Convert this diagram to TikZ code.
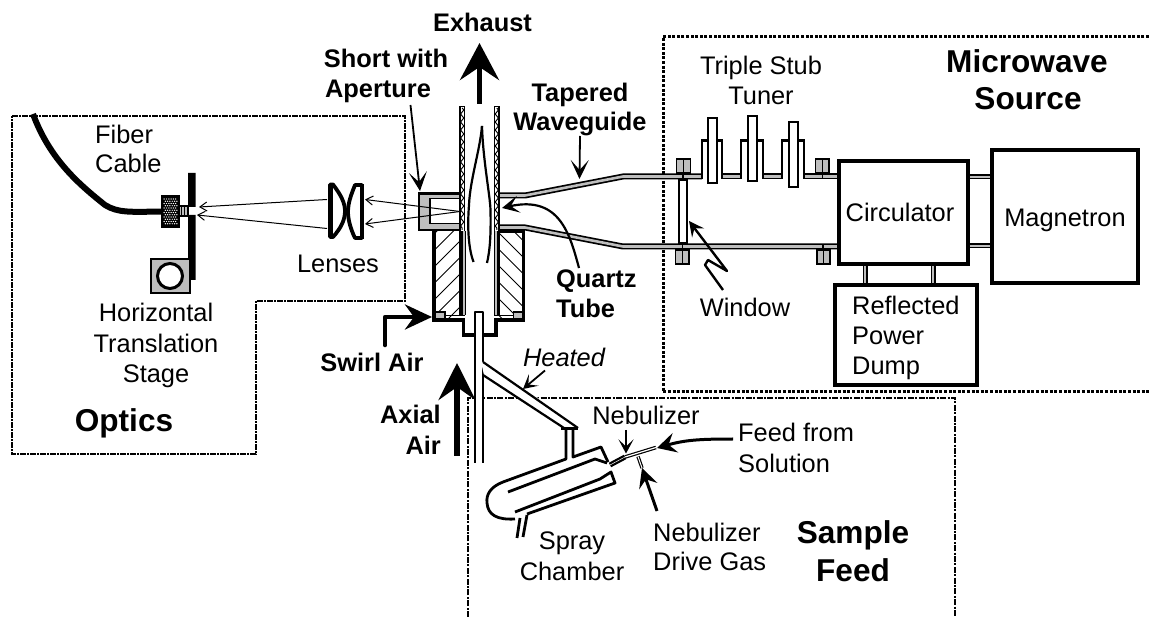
\documentclass[tikz,border=0pt]{standalone}
\usepackage{fontspec}
\setmainfont{Liberation Sans}
\usetikzlibrary{arrows.meta,decorations.pathmorphing,calc}
\definecolor{wg}{HTML}{BEBEBE}
\tikzset{
  reg/.style={font=\fontsize{25.4}{29}\selectfont,inner sep=0pt,anchor=base},
  regl/.style={reg,anchor=base west},
  ital/.style={font=\fontsize{25.4}{29}\itshape\selectfont,inner sep=0pt,anchor=base},
  bm/.style={font=\fontsize{25.4}{29}\bfseries\selectfont,inner sep=0pt,anchor=base},
  bl/.style={font=\fontsize{31.6}{36}\bfseries\selectfont,inner sep=0pt,anchor=base},
  blockbox/.style={draw,line width=3.6pt,fill=white,inner sep=0pt,font=\fontsize{25.4}{29}\selectfont},
  wall/.style={draw=black,line width=6pt,postaction={draw=wg,line width=2.6pt}},
  thinwall/.style={draw=black,line width=5pt,postaction={draw=wg,line width=2.4pt}},
  pipe/.style={draw=black,line width=2.8pt,line join=round},
  qwall/.style={draw=black,line width=1.3pt,fill=white},
  bolt/.style={draw=black,line width=1.6pt,fill=wg},
  plunger/.style={draw=black,line width=2pt,fill=white},
  hatchl/.style={line width=0.9pt},
  microbox/.style={line width=3pt,dash pattern=on 3pt off 1.6pt},
  samplebox/.style={line width=2.2pt,dash pattern=on 6pt off 1.4pt on 2pt off 1.4pt},
  opticsbox/.style={line width=1.8pt,dash pattern=on 6pt off 1.2pt on 1.6pt off 1.2pt},
  ray/.style={line width=1pt,-{Straight Barb[length=7pt,width=9pt,line width=1pt]}},
  thinarrow/.style={line width=1.8pt,-{Stealth[length=19pt,width=18pt,inset=10pt]}},
  midarrow/.style={line width=2.6pt,-{Stealth[length=16pt,width=17pt,inset=7pt]}},
  bigarrow/.style={line width=4.6pt,-{Stealth[length=27pt,width=25pt,inset=9pt]}},
}
\begin{document}
\begin{tikzpicture}[x=1pt,y=-1pt]
\useasboundingbox (0,0) rectangle (1149,617);
% region outlines
\coordinate (ma) at (1149,36.5); \coordinate (mb) at (663,36.5); \coordinate (mc) at (663,392); \coordinate (md) at (1149,392);
\draw[microbox] (ma) -- (mb) -- (mc) -- (md);
\coordinate (sa) at (468,617); \coordinate (sb) at (468,398); \coordinate (sc) at (955,398); \coordinate (sd) at (955,617);
\draw[samplebox] (sa) -- (sb) -- (sc) -- (sd);
\coordinate (oa) at (12,116); \coordinate (ob) at (405,116); \coordinate (oc) at (405,301); \coordinate (od) at (256,301); \coordinate (oe) at (256,454); \coordinate (of) at (12,454);
\draw[opticsbox] (oa) -- (ob) -- (oc) -- (od) -- (oe) -- (of) -- cycle;

% fibre, connector, stage
\node[draw,line width=2.4pt,fill=black,minimum width=16pt,minimum height=30pt,inner sep=0pt] (conn) at (170.5,211.5) {};
\foreach \i in {0,...,5} \foreach \j in {0,...,11}
  \fill[white] ({164.2+\i*2.3+mod(\j,2)*1.15},{199+\j*2.25}) circle (.72pt);
\coordinate (fib) at (33,114);
\draw[line width=6pt] (fib) .. controls (50,160) and (80,185) .. (105,205) .. controls (118,213) and (130,212) .. (conn.west);
\node[draw,line width=2pt,fill=wg,minimum width=9pt,minimum height=10pt,inner sep=0pt] (ferr) at (183.5,211.5) {};
\draw[line width=.8pt] (181,207) -- (181,216) (184,207) -- (184,216);
\fill (188,173) rectangle (195.5,207) (188,215) rectangle (195.5,280);
\node[draw,line width=2.4pt,fill=wg,minimum width=39pt,minimum height=34pt,inner sep=0pt] (stage) at (170.5,276) {};
\node[draw,line width=3pt,fill=white,circle,minimum size=25pt,inner sep=0pt] (stagec) at (170,276) {};

% lenses
\draw[line width=3.8pt,line join=round,fill=white] (330,184.5) -- (333,184.5) .. controls (341,195) and (345,203) .. (345,211) .. controls (345,220) and (341,228) .. (333,237) -- (330,237) -- cycle;
\fill (328.5,184) rectangle (333,238);
\draw[line width=3.8pt,line join=round,fill=white] (362,185) -- (355,185) .. controls (351,195) and (348,203) .. (348,212) .. controls (348,220) and (351,230) .. (355,238) -- (362,238) -- cycle;
\fill (360,184) rectangle (364,239);
\coordinate (lensla) at (327,199.5); \coordinate (lenslb) at (327,228.5);
\coordinate (lensra) at (365,199.5); \coordinate (lensrb) at (365,224);
\coordinate (fa) at (199,207); \coordinate (fb) at (197,215);
\coordinate (focus) at (460,211.5);
\draw[ray] (lensla) -- (fa);
\draw[ray] (lenslb) -- (fb);

% coil block
\begin{scope}
\clip (434,231) rectangle (460,319);
\foreach \k in {0,...,8} \draw[hatchl] (430,{238+\k*16.5}) -- ++(35,-35);
\end{scope}
\begin{scope}
\clip (498,231) rectangle (523,319);
\foreach \k in {0,...,8} \draw[hatchl] (495,{196+\k*16.5}) -- ++(35,35);
\end{scope}
\draw[line width=3.6pt,line join=miter] (434,230) -- (434,320) -- (462,320);
\draw[line width=3.6pt,line join=miter] (499,231) -- (523.5,231) -- (523.5,320) -- (497,320);
\draw[line width=1pt] (445,316) -- (460,316) (498,316) -- (513,316);
\draw[bolt] (435.5,312) rectangle (445,319);
\draw[bolt] (513.5,312) rectangle (522.5,319);

% short with aperture
\draw[draw=black,line width=2.6pt,fill=wg] (460,193.5) -- (419,193.5) -- (419,230) -- (460,230);
\draw[draw=black,line width=1.6pt,fill=white] (460,198.5) -- (430,198.5) -- (430,223.5) -- (460,223.5);

% waveguide
\draw[wall] (498,195.5) -- (525,195.5) -- (623,176.5) -- (702,176.5);
\draw[wall] (498,227.5) -- (525,227.5) -- (623,246.5) -- (838,246.5);
\draw[wall] (722,176.5) -- (741,176.5);
\draw[wall] (763,176.5) -- (782,176.5);
\draw[wall] (804,176.5) -- (838,176.5);
\draw[line width=2.4pt,line join=miter] (702,179) -- (702,140.5) -- (722,140.5) -- (722,179);
\draw[line width=2.4pt,line join=miter] (741,179) -- (741,140.5) -- (763,140.5) -- (763,179);
\draw[line width=2.4pt,line join=miter] (782,179) -- (782,140.5) -- (804,140.5) -- (804,179);
\draw[plunger] (708,118) rectangle (717,183);
\draw[plunger] (748,116) rectangle (757,181);
\draw[plunger] (789,122) rectangle (798,187);
% window and flanges
\draw[line width=2pt,fill=white] (679,180) rectangle (687,243);
\draw[bolt] (676.5,159) rectangle (683.5,173); \draw[bolt] (683.5,159) rectangle (690.5,173);
\draw[bolt] (675.5,250) rectangle (682.5,264); \draw[bolt] (682.5,250) rectangle (689,264);
\draw[bolt] (815.5,159) rectangle (822.5,173); \draw[bolt] (822.5,159) rectangle (829,173);
\draw[bolt] (817,250) rectangle (823.5,264); \draw[bolt] (823.5,250) rectangle (830,264);
\draw[line width=1.2pt] (683,174) -- (683,179) (822.5,174) -- (822.5,179) (682.5,244) -- (682.5,249) (823,244) -- (823,249);

% torch tubes
\fill[white] (464,106) rectangle (495,320);
\draw[qwall] (460,106.5) rectangle (464.5,315);
\draw[qwall] (494.5,106.5) rectangle (499,315);
\draw[line width=1pt,decorate,decoration={zigzag,segment length=8pt,amplitude=1.6pt}] (462.2,108) -- (462.2,230);
\draw[line width=1pt,decorate,decoration={zigzag,segment length=8pt,amplitude=1.6pt}] (496.8,108) -- (496.8,230);
\fill (458.5,231) rectangle (463,315);
\fill[wg] (463,231) rectangle (465,315);
\draw[line width=1pt] (465.2,231) -- (465.2,315);
\fill (496.5,231) rectangle (500,315);
\fill[wg] (494.5,231) rectangle (496.5,315);
\draw[line width=1pt] (494,231) -- (494,315);
\draw[line width=3.4pt,line join=miter,fill=white] (463.5,318) -- (463.5,335) -- (496,335) -- (496,318);
% flame
\coordinate (flametip) at (482,126);
\draw[line width=2.2pt] (flametip) .. controls (480,150) and (470,180) .. (469,205) .. controls (467,230) and (469,250) .. (473.5,262);
\draw[line width=2.2pt] (flametip) .. controls (483,160) and (490,195) .. (490.5,210) .. controls (491,235) and (490,250) .. (487,263);
% axial tube
\draw[pipe,fill=white,line width=2.2pt] (475,463) -- (475,312) -- (483,312) -- (483,463);
% heated line and chamber
\fill[white] (481,362) -- (490,362) -- (578,428) -- (564,428) -- (484,375) -- cycle;
\draw[pipe,line width=2.2pt] (483,362) -- (578,428) (483,375) -- (564,428);
\draw[pipe] (561,428.5) -- (578,428.5);
\draw[pipe] (566,429) -- (566,459) -- (503,482) .. controls (490,487) and (486,495) .. (487,503) .. controls (488,515) and (497,520) .. (515,519);
\draw[pipe] (573,429) -- (573,457) -- (601,447) -- (608,462);
\draw[pipe] (508,492) -- (595,459) -- (607,463);
\draw[pipe] (515,512) -- (600,479) -- (611,472) -- (615,483) -- (527,514);
\draw[pipe] (520,518) -- (517,538);
\draw[pipe] (527,515) -- (523,537);
% nebulizer
\coordinate (nebA) at (610,465); \coordinate (nebB) at (625,457); \coordinate (nebC) at (656,447.5);
\coordinate (nebD) at (638,456.5); \coordinate (nebE) at (642,468);
\draw[line width=3.6pt,postaction={draw=white,line width=1.2pt}] (nebB) -- (nebC);
\draw[line width=3.4pt,postaction={draw=white,line width=1pt}] (nebD) -- (nebE);
\draw[line width=5pt,postaction={draw=white,line width=.5pt}] (nebA) -- (nebB);

% boxes
\node[blockbox,minimum width=129pt,minimum height=103pt,text height=18pt,text depth=0pt] (circ) at (903.5,212.5) {\kern-7pt Circulator};
\node[blockbox,minimum width=146pt,minimum height=133pt,text height=26pt,text depth=5pt] (mag) at (1065,216.5) {Magnetron};
\node[blockbox,minimum width=142pt,minimum height=100pt] (dump) at (906,335) {};
\coordinate (cm) at (980,177); \coordinate (cn) at (980,246);
\coordinate (dm) at (865,275); \coordinate (dn) at (933,275);
\draw[thinwall] (circ.east |- cm) -- (mag.west |- cm);
\draw[thinwall] (circ.east |- cn) -- (mag.west |- cn);
\draw[thinwall] (dm |- circ.south) -- (dm |- dump.north);
\draw[thinwall] (dn |- circ.south) -- (dn |- dump.north);

% rays to lens
\draw[ray] (focus) -- (lensra);
\draw[ray] (focus) -- (lensrb);

% arrows
\coordinate (exA) at (479.5,104); \coordinate (exB) at (479.5,43);
\draw[line width=5.4pt,-{Stealth[length=37pt,width=39pt,inset=13pt]}] (exA) -- (exB);
\coordinate (axA) at (457,456); \coordinate (axB) at (457,363);
\draw[line width=5.4pt,-{Stealth[length=37pt,width=37pt,inset=13pt]}] (axA) -- (axB);
\coordinate (swA) at (385,345); \coordinate (swB) at (385,317); \coordinate (swC) at (432,317);
\draw[bigarrow,line cap=round,line join=round] (swA) -- (swB) -- (swC);
\coordinate (shA) at (410.5,105); \coordinate (shB) at (420,191);
\draw[thinarrow] (shA) -- (shB);
\coordinate (tpA) at (580,136); \coordinate (tpB) at (579.5,179);
\draw[thinarrow] (tpA) -- (tpB);
\coordinate (qzA) at (579,268); \coordinate (qzB) at (502,208);
\draw[line width=2.2pt,-{Stealth[length=17pt,width=17pt,inset=8pt]}] (qzA) .. controls (570,235) and (560,195) .. (qzB);
\coordinate (htA) at (545,370.5); \coordinate (htB) at (523,389);
\draw[line width=1.8pt,-{Stealth[length=14pt,width=15pt,inset=7pt]}] (htA) -- (htB);
\coordinate (nuA) at (626,430); \coordinate (nuB) at (626,453.5);
\draw[line width=1.8pt,-{Stealth[length=14pt,width=15pt,inset=7pt]}] (nuA) -- (nuB);
\coordinate (fdA) at (733,439); \coordinate (fdB) at (657,448);
\draw[line width=3pt,-{Stealth[length=19pt,width=20pt,inset=7pt]}] (fdA) .. controls (700,439) and (685,440) .. (fdB);
\coordinate (drA) at (657,511); \coordinate (drB) at (642,468);
\draw[line width=3pt,-{Stealth[length=19pt,width=19pt,inset=7pt]}] (drA) -- (drB);
\coordinate (wnA) at (723,290); \coordinate (wnB) at (705,265); \coordinate (wnC) at (708,260); \coordinate (wnD) at (727,271); \coordinate (wnE) at (689,221);
\draw[line width=2.4pt,line join=round,-{Stealth[length=15pt,width=15pt,inset=6pt]}] (wnA) -- (wnB) -- (wnC) -- (wnD) -- (wnE);

% labels
\node[bm] (tExh) at (482.5,32) {Exhaust};
\node[bm] (tSh1) at (386,68) {Short with};
\node[bm] (tSh2) at (378,98) {Aperture};
\node[bm] (tTp1) at (580,102) {Tapered};
\node[bm] (tTp2) at (580,131) {Waveguide};
\node[bl] (tMic) at (1027,73) {Microwave};
\node[bl] (tSrc) at (1028,110) {Source};
\node[reg] (tTr1) at (761,75) {Triple Stub};
\node[reg] (tTr2) at (761,105) {Tuner};
\node[regl] (tFb1) at (95,144) {Fiber};
\node[regl] (tFb2) at (95,173) {Cable};
\node[reg] (tLen) at (338,273) {Lenses};
\node[reg] (tHo1) at (156,322) {Horizontal};
\node[reg] (tHo2) at (156,353) {Translation};
\node[reg] (tHo3) at (156,383) {Stage};
\node[bl] (tOpt) at (124,432) {Optics};
\node[bm] (tSwi) at (372,372) {Swirl Air};
\node[bm,anchor=base east] (tAx1) at (441,424) {Axial};
\node[bm,anchor=base east] (tAx2) at (441,454) {Air};
\node[ital] (tHea) at (564,367) {Heated};
\node[bm,anchor=base west] (tQu1) at (556,288) {Quartz};
\node[bm,anchor=base west] (tQu2) at (556,318) {Tube};
\node[reg] (tWin) at (745,317) {Window};
\node[regl] (tRe1) at (852,315) {Reflected};
\node[regl] (tRe2) at (852,345) {Power};
\node[regl] (tRe3) at (852,375) {Dump};
\node[reg] (tNe1) at (646,425) {Nebulizer};
\node[regl] (tFe1) at (738,442) {Feed from};
\node[regl] (tFe2) at (738,472) {Solution};
\node[reg] (tSp1) at (572,549) {Spray};
\node[reg] (tSp2) at (572,580) {Chamber};
\node[regl] (tNd1) at (653,541) {Nebulizer};
\node[regl] (tNd2) at (653,570) {Drive Gas};
\node[bl] (tSa1) at (853,543) {Sample};
\node[bl] (tSa2) at (853,581) {Feed};
\end{tikzpicture}
\end{document}
